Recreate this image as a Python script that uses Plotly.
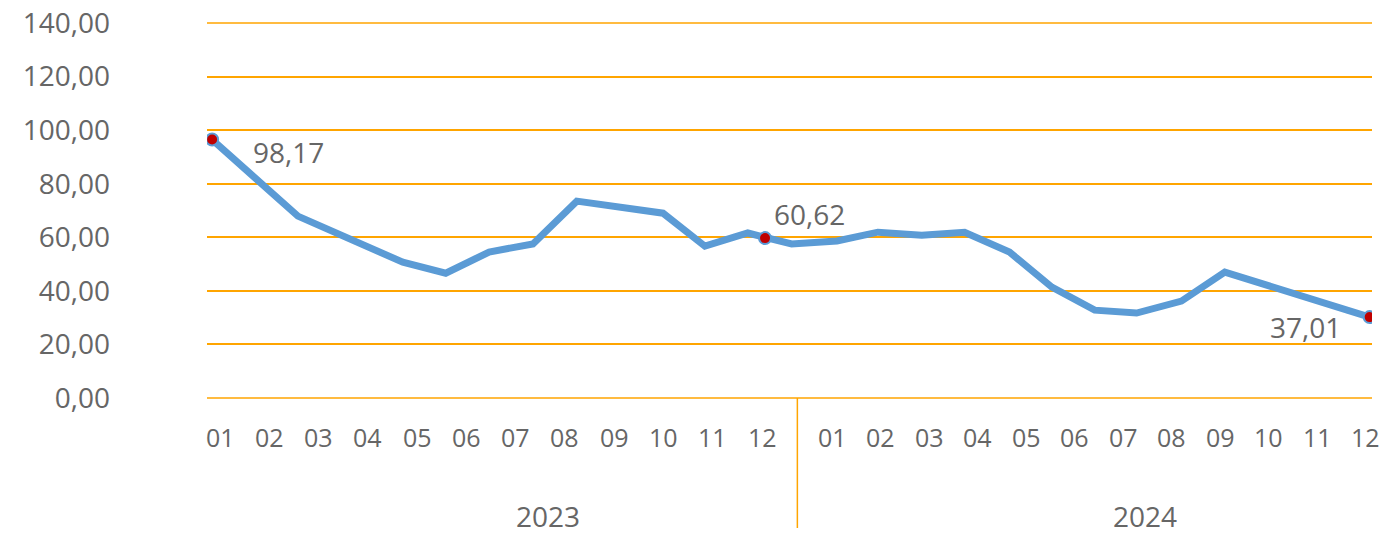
import plotly.graph_objects as go

# ---- data ----
years = ["2023", "2024"]
months = ["01", "02", "03", "04", "05", "06", "07", "08", "09", "10", "11", "12"]

# line vertices: position along the month axis (in month slots) and value
line_pos = [-0.16, 1.58, 3.71, 4.58, 5.46, 6.35, 7.24, 8.05, 8.99, 9.84, 10.71,
            11.60, 12.52, 13.35, 14.24, 15.11, 16.02, 16.88, 17.75, 18.60, 19.51,
            20.39, 23.33]
line_val = [96.5, 67.9, 50.7, 46.6, 54.5, 57.5, 73.5, 71.3, 69.0, 56.7, 61.6,
            57.5, 58.6, 61.9, 60.8, 61.9, 54.5, 41.4, 32.8, 31.7, 36.2,
            47.0, 30.2]

# highlighted points and their data labels
mark_pos = [-0.16, 11.06, 23.33]
mark_val = [96.5, 59.7, 30.2]
mark_text = ["98,17", "60,62", "37,01"]

y_ticks = [0, 20, 40, 60, 80, 100, 120, 140]

# ---- styling ----
ORANGE = "#FFA500"
BLUE = "#5B9BD5"
TXT = "#666666"
FONT = "Open Sans"
FS = 28

X0, X1 = -0.264, 23.377          # x range (month slots)
YEAR_START = [0.0, 12.42]        # slot where each year's month labels start
YEAR_STEP = [1.0, 0.985]         # label spacing per year
YEAR_CENTER = [6.65, 18.78]      # year label positions
DIVIDER = 11.716                 # slot of the year divider


def to_paper(u):
    return (u - X0) / (X1 - X0)


fig = go.Figure()
fig.add_trace(go.Scatter(x=line_pos, y=line_val, mode="lines",
                         line=dict(color=BLUE, width=7), hoverinfo="skip"))
fig.add_trace(go.Scatter(x=mark_pos, y=mark_val, mode="markers",
                         marker=dict(color="#C00000", size=12,
                                     line=dict(color=BLUE, width=2)),
                         hoverinfo="skip"))

annotations = []
# data labels
offsets = [(76, -12), (44, 24), (-64, -10)]
for p, v, t, (dx, dy) in zip(mark_pos, mark_val, mark_text, offsets):
    annotations.append(dict(x=p, y=v, xref="x", yref="y", text=t, showarrow=False,
                            xshift=dx, yshift=dy, xanchor="center", yanchor="middle",
                            font=dict(family=FONT, size=FS, color=TXT)))

# month labels
for yi, yr in enumerate(years):
    for mi, m in enumerate(months):
        u = YEAR_START[yi] + YEAR_STEP[yi] * mi
        annotations.append(dict(x=to_paper(u), y=-0.103, xref="paper",
                                yref="paper", text=m, showarrow=False,
                                xanchor="center", yanchor="middle",
                                font=dict(family=FONT, size=25, color=TXT)))
# year labels
for x, yr in zip(YEAR_CENTER, years):
    annotations.append(dict(x=to_paper(x), y=-0.314, xref="paper", yref="paper",
                            text=yr, showarrow=False, xanchor="center",
                            yanchor="middle",
                            font=dict(family=FONT, size=28, color=TXT)))

# the page body has an 8px margin, so the figure is sized/margined to compensate
fig.update_layout(
    width=1384, height=520,
    margin=dict(l=199, r=19.5, t=15, b=130),
    paper_bgcolor="white", plot_bgcolor="white",
    showlegend=False,
    annotations=annotations,
    xaxis=dict(range=[X0, X1], showgrid=False, zeroline=False, automargin=False,
               showticklabels=False, showline=False, fixedrange=True),
    yaxis=dict(range=[0, 140], tickvals=y_ticks, automargin=False,
               ticktext=[f"{v:.2f}".replace(".", ",") for v in y_ticks],
               showgrid=True, gridcolor=ORANGE, gridwidth=1.5,
               zeroline=False, showline=False,
               ticklabelstandoff=96, ticklabeloverflow="allow",
               tickfont=dict(family=FONT, size=FS, color=TXT)),
    shapes=[
        dict(type="line", xref="paper", yref="paper", x0=0, x1=1, y0=0, y1=0,
             line=dict(color=ORANGE, width=1.5), layer="below"),
        dict(type="line", xref="paper", yref="paper", x0=0, x1=1, y0=1, y1=1,
             line=dict(color=ORANGE, width=1.5), layer="below"),
        dict(type="line", xref="paper", yref="paper", x0=to_paper(DIVIDER),
             x1=to_paper(DIVIDER), y0=0, y1=-0.4,
             line=dict(color=ORANGE, width=1.5)),
    ],
)

fig.write_html("out.html")
